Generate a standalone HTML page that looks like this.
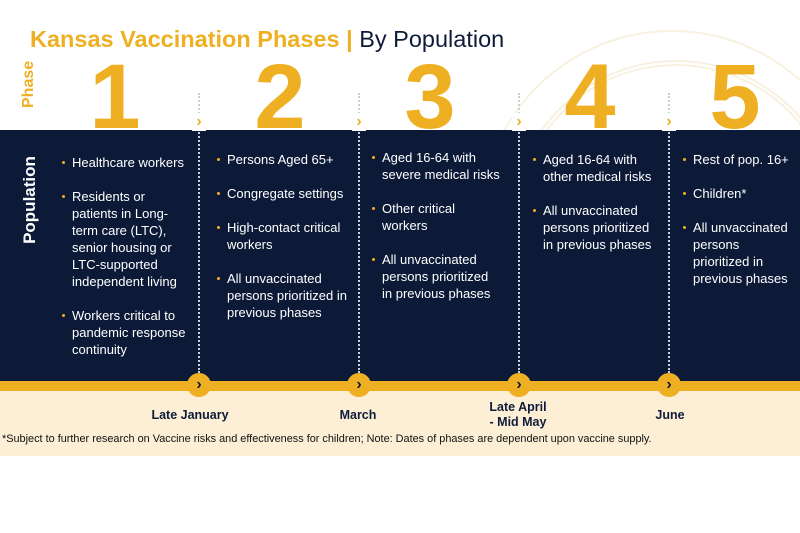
<!DOCTYPE html>
<html><head><style>
body{margin:0;width:800px;height:533px;background:#fff;position:relative;overflow:hidden;font-family:"Liberation Sans",sans-serif}
.abs{position:absolute}
.title{left:30px;top:26px;font-size:23.5px;font-weight:bold;color:#eeb022;white-space:nowrap}
.title span{color:#0f1b3a;font-weight:normal}
.num{font-size:92px;font-weight:bold;color:#eeb022;top:52px;line-height:90px;width:80px;text-align:center}
.navy{left:0;top:130px;width:800px;height:251px;background:#0c1a38}
.yel{left:0;top:381px;width:800px;height:10px;background:#eeb022}
.cream{left:0;top:391px;width:800px;height:65px;background:#fcefd6}
.dot{width:0;border-left:2px dotted #c9ced8;top:93px;height:280px}
.col{color:#fff;font-size:13px;line-height:17px;top:154px}
.col p{margin:0 0 17px 0;padding-left:10px;position:relative}
.col p:before{content:"";position:absolute;left:0;top:7px;width:3px;height:3px;background:#eeb022;border-radius:2px}
.circ{width:24px;height:24px;border-radius:50%;background:#eeb022;top:373px;color:#0c1a38;font-weight:bold;font-size:16px;text-align:center;line-height:23px}
.chev{color:#eeb022;font-weight:bold;font-size:16px;top:113px;background:#fff;width:14px;text-align:center}
.date{font-size:12.5px;font-weight:bold;color:#0f1b3a;text-align:center;width:120px;line-height:15px}
</style></head><body>
<div class="abs" style="left:480px;top:30px;width:380px;height:380px;border-radius:50%;border:2px solid #f8f1e0;"></div>
<div class="abs" style="left:510px;top:60px;width:320px;height:320px;border-radius:50%;border:6px double #f8f1e0;"></div>
<div class="abs title">Kansas Vaccination Phases <b style="color:#eeb022">|</b> <span>By Population</span></div>
<div class="abs" style="left:20px;top:108px;transform:rotate(-90deg);transform-origin:left top;font-size:16px;font-weight:bold;color:#eeb022;width:60px">Phase</div>
<div class="abs num" style="left:75px">1</div>
<div class="abs num" style="left:240px">2</div>
<div class="abs num" style="left:390px">3</div>
<div class="abs num" style="left:550px">4</div>
<div class="abs num" style="left:695px">5</div>
<div class="abs navy"></div>
<div class="abs" style="left:20px;top:250px;transform:rotate(-90deg);transform-origin:left top;font-size:17px;font-weight:bold;color:#fff;width:100px;text-align:center">Population</div>
<div class="abs dot" style="left:198px"></div><div class="abs dot" style="left:358px"></div><div class="abs dot" style="left:518px"></div><div class="abs dot" style="left:668px"></div>
<div class="abs chev" style="left:192px">›</div><div class="abs chev" style="left:352px">›</div><div class="abs chev" style="left:512px">›</div><div class="abs chev" style="left:662px">›</div>
<div class="abs col" style="left:62px;width:124px"><p>Healthcare workers</p><p>Residents or patients in Long-term care (LTC), senior housing or LTC-supported independent living</p><p>Workers critical to pandemic response continuity</p></div>
<div class="abs col" style="left:217px;width:135px;top:151px"><p>Persons Aged 65+</p><p>Congregate settings</p><p>High-contact critical workers</p><p>All unvaccinated persons prioritized in previous phases</p></div>
<div class="abs col" style="left:372px;width:128px;top:149px"><p>Aged 16-64 with severe medical risks</p><p>Other critical workers</p><p>All unvaccinated persons prioritized in previous phases</p></div>
<div class="abs col" style="left:533px;width:122px;top:151px"><p>Aged 16-64 with other medical risks</p><p>All unvaccinated persons prioritized in previous phases</p></div>
<div class="abs col" style="left:683px;width:114px;top:151px"><p>Rest of pop. 16+</p><p>Children*</p><p>All unvaccinated persons prioritized in previous phases</p></div>
<div class="abs yel"></div><div class="abs cream"></div>
<div class="abs circ" style="left:187px">›</div><div class="abs circ" style="left:347px">›</div><div class="abs circ" style="left:507px">›</div><div class="abs circ" style="left:657px">›</div>
<div class="abs date" style="left:130px;top:408px">Late January</div>
<div class="abs date" style="left:298px;top:408px">March</div>
<div class="abs date" style="left:458px;top:400px">Late April<br>- Mid May</div>
<div class="abs date" style="left:610px;top:408px">June</div>
<div class="abs" style="left:2px;top:433px;font-size:10.9px;color:#111;white-space:nowrap">*Subject to further research on Vaccine risks and effectiveness for children; Note: Dates of phases are dependent upon vaccine supply.</div>
</body></html>
